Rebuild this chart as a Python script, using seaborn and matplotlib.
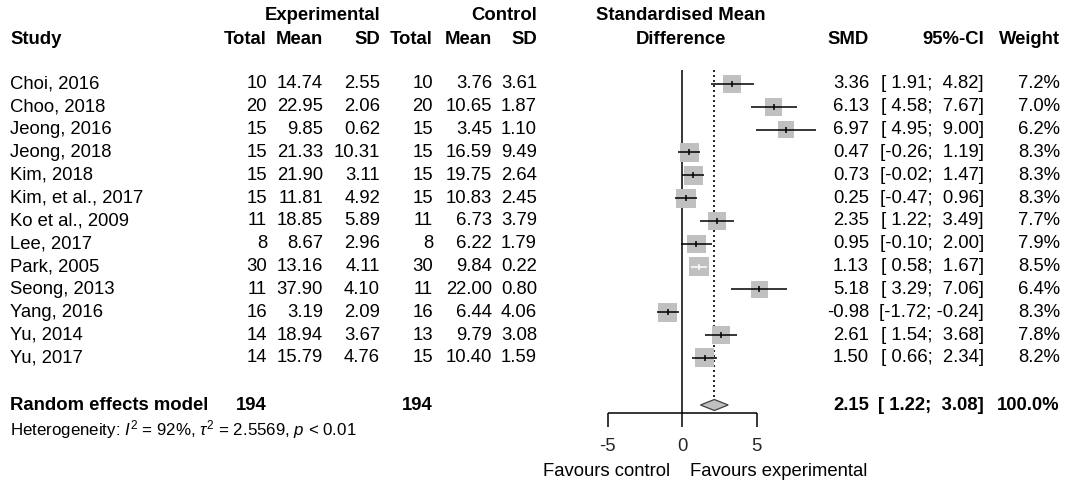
import pandas as pd
import matplotlib.pyplot as plt
import seaborn as sns
import numpy as np
from matplotlib.transforms import blended_transform_factory

# Datos
studies = ['Choi, 2016', 'Choo, 2018', 'Jeong, 2016', 'Jeong, 2018', 'Kim, 2018',
           'Kim, et al., 2017', 'Ko et al., 2009', 'Lee, 2017', 'Park, 2005',
           'Seong, 2013', 'Yang, 2016', 'Yu, 2014', 'Yu, 2017']
exp_n = [10, 20, 15, 15, 15, 15, 11, 8, 30, 11, 16, 14, 14]
exp_mean = [14.74, 22.95, 9.85, 21.33, 21.90, 11.81, 18.85, 8.67, 13.16, 37.90, 3.19, 18.94, 15.79]
exp_sd = [2.55, 2.06, 0.62, 10.31, 3.11, 4.92, 5.89, 2.96, 4.11, 4.10, 2.09, 3.67, 4.76]
ctrl_n = [10, 20, 15, 15, 15, 15, 11, 8, 30, 11, 16, 13, 15]
ctrl_mean = [3.76, 10.65, 3.45, 16.59, 19.75, 10.83, 6.73, 6.22, 9.84, 22.00, 6.44, 9.79, 10.40]
ctrl_sd = [3.61, 1.87, 1.10, 9.49, 2.64, 2.45, 3.79, 1.79, 0.22, 0.80, 4.06, 3.08, 1.59]
smd = [3.36, 6.13, 6.97, 0.47, 0.73, 0.25, 2.35, 0.95, 1.13, 5.18, -0.98, 2.61, 1.50]
ci_lo = [1.91, 4.58, 4.95, -0.26, -0.02, -0.47, 1.22, -0.10, 0.58, 3.29, -1.72, 1.54, 0.66]
ci_hi = [4.82, 7.67, 9.00, 1.19, 1.47, 0.96, 3.49, 2.00, 1.67, 7.06, -0.24, 3.68, 2.34]
weight = [7.2, 7.0, 6.2, 8.3, 8.3, 8.3, 7.7, 7.9, 8.5, 6.4, 8.3, 7.8, 8.2]

# Modelo de efectos aleatorios
re_n_exp, re_n_ctrl = 194, 194
re_smd, re_lo, re_hi, re_weight = 2.15, 1.22, 3.08, 100.0
het_text = r'Heterogeneity: $I^2$ = 92%, $\tau^2$ = 2.5569, $p$ < 0.01'
x_ticks = [-5, 0, 5]

df = pd.DataFrame({'Study': studies, 'SMD': smd, 'Lo': ci_lo, 'Hi': ci_hi,
                   'Weight': weight})
df['row'] = np.arange(len(df))

sns.set_theme(style='white')
plt.rcParams['font.family'] = ['Liberation Sans', 'DejaVu Sans']
plt.rcParams['mathtext.fontset'] = 'custom'
plt.rcParams['mathtext.rm'] = 'Liberation Sans'
plt.rcParams['mathtext.it'] = 'Liberation Sans:italic'
plt.rcParams['mathtext.bf'] = 'Liberation Sans:bold'

W, H = 1067, 486
fig = plt.figure(figsize=(W / 100, H / 100), dpi=100)
ax = fig.add_axes([0, 0, 1, 1])

# escala: 0 en px 682.3, 14.9 px por unidad; filas cada 22.83 px desde px 84
x0, ppu = 682.3, 14.9
y0, ppr = 84, 22.83
ax.set_xlim(-x0 / ppu, (W - x0) / ppu)
ax.set_ylim((H - y0) / ppr, -y0 / ppr)
ax.axis('off')

def row(px):
    return (px - y0) / ppr

tr = blended_transform_factory(ax.transAxes, ax.transData)
fs = 13.3

def txt(px, y, s, ha='right', bold=False, size=fs):
    ax.text(px / W, y, s, transform=tr, ha=ha, va='center', fontsize=size,
            fontweight='bold' if bold else 'normal', color='black')

# Cabeceras
txt(380, row(16), 'Experimental', bold=True)
txt(537, row(16), 'Control', bold=True)
txt(681, row(16), 'Standardised Mean', ha='center', bold=True)
txt(10, row(39), 'Study', ha='left', bold=True)
for px, s in [(267, 'Total'), (323, 'Mean'), (380, 'SD'), (433, 'Total'),
              (492, 'Mean'), (537, 'SD'), (869, 'SMD'), (984, '95%-CI'),
              (1060, 'Weight')]:
    txt(px, row(39), s, bold=True)
txt(681, row(39), 'Difference', ha='center', bold=True)

# Filas de estudios
for i in range(len(studies)):
    txt(10, i, studies[i], ha='left')
    txt(267, i, f'{exp_n[i]}')
    txt(323, i, f'{exp_mean[i]:.2f}')
    txt(380, i, f'{exp_sd[i]:.2f}')
    txt(433, i, f'{ctrl_n[i]}')
    txt(492, i, f'{ctrl_mean[i]:.2f}')
    txt(537, i, f'{ctrl_sd[i]:.2f}')
    txt(869, i, f'{smd[i]:.2f}')
    txt(984, i, f'[{ci_lo[i]:5.2f}; {ci_hi[i]:5.2f}]')
    txt(1060, i, f'{weight[i]:.1f}%')

# Fila del modelo
yr = row(405)
txt(10, yr, 'Random effects model', ha='left', bold=True)
txt(267, yr, f'{re_n_exp}', bold=True)
txt(433, yr, f'{re_n_ctrl}', bold=True)
txt(869, yr, f'{re_smd:.2f}', bold=True)
txt(984, yr, f'[{re_lo:5.2f}; {re_hi:5.2f}]', bold=True)
txt(1060, yr, f'{re_weight:.1f}%', bold=True)
txt(10, row(430), het_text, ha='left', size=12.2)

# Cuadrados (area proporcional al peso)
side_px = 19.3 * np.sqrt(np.array(weight) / 8.5)
area = (side_px * 0.72) ** 2
sns.scatterplot(data=df, x='SMD', y='row', size='Weight',
                sizes=(area.min(), area.max()),
                size_norm=(min(weight), max(weight)),
                marker='s', color='#c0c0c0', edgecolor='none',
                legend=False, ax=ax, zorder=2)

# Intervalos de confianza
half = side_px / 2 / ppu
for i, r in df.iterrows():
    inside = (r['Lo'] > r['SMD'] - half[i]) and (r['Hi'] < r['SMD'] + half[i])
    c = 'white' if inside else 'black'
    ax.hlines(r['row'], r['Lo'], r['Hi'], color=c, lw=1.1, zorder=3)
    ax.scatter(r['SMD'], r['row'], marker='|', s=(6 * 0.72) ** 2,
               color=c, linewidths=1.1, zorder=4)

# Diamante
dh = 5.5 / ppr
ax.fill([re_lo, re_smd, re_hi, re_smd], [yr, yr - dh, yr, yr + dh],
        facecolor='#c0c0c0', edgecolor='#404040', lw=0.9, zorder=3)

# Linea nula y linea del efecto combinado
y_axis = row(413)
ax.vlines(0, row(70), y_axis, color='black', lw=1.1, zorder=1)
ax.vlines(re_smd, row(70), yr - dh, color='black', lw=1.2,
          linestyles=(0, (1.2, 1.8)), zorder=1)

# Eje inferior
ax.hlines(y_axis, x_ticks[0], x_ticks[-1], color='black', lw=1.1)
for t in x_ticks:
    ax.vlines(t, y_axis, row(427), color='black', lw=1.1)
    ax.text(t, row(446), f'{t}', ha='center', va='center', fontsize=fs)
txt(670, row(471), 'Favours control', ha='right')
txt(690, row(471), 'Favours experimental', ha='left')

fig.savefig('out.png', dpi=100)
